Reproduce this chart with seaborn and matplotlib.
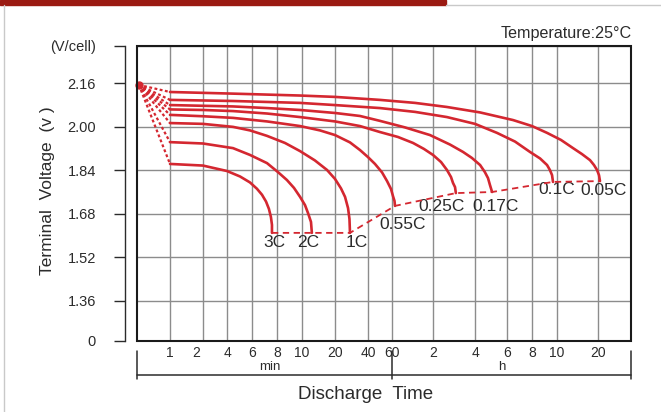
import numpy as np
import pandas as pd
import seaborn as sns
import matplotlib.pyplot as plt
from matplotlib.patches import Rectangle
from matplotlib.lines import Line2D
from matplotlib.transforms import ScaledTranslation

# discharge curves, time in minutes, voltage per cell
t_3c = [1, 2, 4, 4.94, 5.81, 6.35, 6.73, 7.05, 7.29, 7.46, 7.55, 7.55]
v_3c = [1.863, 1.857, 1.837, 1.817, 1.795, 1.772, 1.750, 1.725, 1.698, 1.668, 1.639, 1.610]
t_2c = [1, 2, 4.41, 5.81, 7.13, 8.07, 8.74, 9.31, 9.83, 10.65, 11.34, 12.08, 12.3]
v_2c = [1.943, 1.938, 1.921, 1.896, 1.866, 1.833, 1.804, 1.775, 1.742, 1.712, 1.683, 1.650, 1.610]
t_1c = [1, 2, 4.41, 5.81, 7.13, 8.59, 9.83, 13.1, 16.9, 20, 22.7, 24.7, 26.3, 27.1, 27.4]
v_1c = [2.013, 2.010, 1.999, 1.986, 1.966, 1.940, 1.910, 1.876, 1.841, 1.808, 1.773,
        1.742, 1.701, 1.661, 1.610]
t_055c = [1, 2, 4.41, 7.13, 9.83, 14.6, 20, 27.4, 33.8, 40, 45, 50.7, 55.2, 59, 61, 62.6, 63.1]
v_055c = [2.043, 2.038, 2.032, 2.019, 2.002, 1.986, 1.969, 1.942, 1.914, 1.888, 1.863,
          1.832, 1.800, 1.771, 1.745, 1.727, 1.709]
t_025c = [1, 2, 4.41, 7.13, 9.83, 20, 33.8, 49, 66.3, 85.6, 103, 120, 137, 151, 161.5,
          167, 172.6, 175]
v_025c = [2.063, 2.061, 2.057, 2.048, 2.035, 2.019, 2.002, 1.980, 1.962, 1.940, 1.918,
          1.896, 1.870, 1.841, 1.815, 1.793, 1.778, 1.756]
t_017c = [1, 4.41, 7.13, 9.83, 20, 33.8, 49, 74.8, 114, 159, 197, 228, 256, 272, 283, 290, 298]
v_017c = [2.079, 2.074, 2.068, 2.061, 2.050, 2.039, 2.021, 1.997, 1.969, 1.934, 1.907,
          1.885, 1.859, 1.833, 1.811, 1.786, 1.760]
t_01c = [1, 4.41, 9.83, 20, 49, 88.5, 151, 240, 317, 395, 469, 516, 549, 563, 574, 579]
v_01c = [2.098, 2.094, 2.087, 2.079, 2.068, 2.054, 2.035, 2.010, 1.977, 1.945, 1.907,
         1.883, 1.859, 1.841, 1.822, 1.797]
t_005c = [1, 4.41, 9.83, 20, 49, 88.5, 151, 256, 386, 480, 549, 642, 787, 916, 1048,
          1121, 1180, 1220, 1241]
v_005c = [2.127, 2.121, 2.114, 2.109, 2.098, 2.087, 2.072, 2.052, 2.024, 2.002, 1.977,
          1.951, 1.921, 1.899, 1.877, 1.859, 1.841, 1.822, 1.800]

rates = ['3C', '2C', '1C', '0.55C', '0.25C', '0.17C', '0.1C', '0.05C']
times = [t_3c, t_2c, t_1c, t_055c, t_025c, t_017c, t_01c, t_005c]
volts = [v_3c, v_2c, v_1c, v_055c, v_025c, v_017c, v_01c, v_005c]

# start point of the fan
dot_t = 0.52
dot_v = 2.153

tick_minutes = [1, 2, 4, 6, 8, 10, 20, 40, 60, 120, 240, 360, 480, 600, 1200]
tick_labels = ['1', '2', '4', '6', '8', '10', '20', '40', '60',
               '2', '4', '6', '8', '10', '20']
volt_ticks = [1.36, 1.52, 1.68, 1.84, 2.00, 2.16]

RED = '#d42730'
INK = '#2b2b2b'

# hand-drawn time axis: piecewise log scale through the grid lines
grid_px = [170, 203, 227, 252, 277, 302, 335, 368, 392, 433, 475, 507, 532, 557, 598]
scale_log = np.log([0.25] + tick_minutes + [2400])
scale_pos = np.array([104] + grid_px + [639], dtype=float)


def fwd(x):
    return np.interp(np.log(np.clip(x, 1e-9, None)), scale_log, scale_pos)


def inv(p):
    return np.exp(np.interp(p, scale_pos, scale_log))


df = pd.concat([pd.DataFrame({'minutes': t, 'volts': v, 'rate': r})
                for t, v, r in zip(times, volts, rates)], ignore_index=True)

sns.set_style('white')
plt.rcParams['font.family'] = ['Liberation Sans', 'DejaVu Sans']

fig = plt.figure(figsize=(6.61, 4.12), dpi=100)
ax = fig.add_axes([137 / 661, 71 / 412, 494 / 661, 295 / 412])
ax.set_xscale('function', functions=(fwd, inv))
x_lo, x_hi = float(inv(137)), float(inv(631))
y_lo, y_hi = 1.2132, 2.2958
ax.set_xlim(x_lo, x_hi)
ax.set_ylim(y_lo, y_hi)

sns.lineplot(data=df, x='minutes', y='volts', units='rate', estimator=None,
             sort=False, color=RED, lw=1.9, ax=ax, legend=False, zorder=4)

# dashed fan from the start point
for t, v in zip(times, volts):
    ax.plot([dot_t, t[0]], [dot_v, v[0]], color=RED, lw=1.6,
            ls=(0, (1.3, 1.1)), zorder=4)
ax.plot([dot_t], [dot_v], 'o', ms=5, color=RED, clip_on=False, zorder=5)

# dashed line through the end points
end_t = [t[-1] for t in times]
end_v = [v[-1] for v in volts]
ax.plot(end_t, end_v, color=RED, lw=1.3, ls=(0, (3.5, 2.5)), zorder=4)

label_off = [(2, -10), (-4, -10), (7, -10), (8, -19), (-14, -13), (3, -14), (4, -8), (4, -9)]
for r, t, v, off in zip(rates, end_t, end_v, label_off):
    ax.annotate(r, (t, v), xytext=off, textcoords='offset pixels',
                ha='center', va='center', fontsize=12.5, color=INK)

# axes styling
ax.set_xticks(tick_minutes)
ax.set_xticklabels(tick_labels)
ax.set_yticks([y_lo] + volt_ticks + [y_hi])
ax.set_yticklabels(['0'] + ['%.2f' % v for v in volt_ticks] + ['(V/cell)'])
ax.grid(True, color='#8c8c8c', lw=1.0)
ax.tick_params(axis='x', length=0, pad=3.5, labelsize=10, labelcolor=INK)
ax.tick_params(axis='y', length=8, width=1.0, pad=13, labelsize=10.5,
               labelcolor=INK, color=INK, direction='out', left=True)
for lab in (ax.get_yticklabels()[0], ax.get_yticklabels()[-1]):
    lab.set_transform(lab.get_transform() + ScaledTranslation(10 / 100, 0, fig.dpi_scale_trans))
lab2 = ax.get_xticklabels()[1]
lab2.set_transform(lab2.get_transform() + ScaledTranslation(-7 / 100, 0, fig.dpi_scale_trans))
for s in ['top', 'right', 'bottom']:
    ax.spines[s].set_visible(False)
ax.spines['left'].set_position(('outward', 8.5))
ax.spines['left'].set_color(INK)
ax.spines['left'].set_linewidth(1.0)
ax.add_patch(Rectangle((0, 0), 1, 1, transform=ax.transAxes, fill=False,
                       ec='#1a1a1a', lw=1.5, clip_on=False, zorder=6))
ax.set_xlabel('')
ax.set_ylabel('')

# min / h bracket under the time axis
tr = ax.get_xaxis_transform()
ax.plot([x_lo, x_hi], [-0.115, -0.115], transform=tr, clip_on=False, color=INK, lw=1.1)
for xv in [x_lo, 60, x_hi]:
    ax.plot([xv, xv], [-0.034, -0.129], transform=tr, clip_on=False, color=INK, lw=1.1)
ax.text(0.269, -0.088, 'min', transform=ax.transAxes, ha='center', va='center',
        fontsize=9.5, color=INK)
ax.text(0.739, -0.088, 'h', transform=ax.transAxes, ha='center', va='center',
        fontsize=9.5, color=INK)
ax.text(0.4636, -0.18, 'Discharge  Time', transform=ax.transAxes, ha='center',
        va='center', fontsize=13.5, color=INK)
ax.text(-0.182, 0.508, 'Terminal  Voltage  (v )', transform=ax.transAxes,
        rotation=90, ha='center', va='center', fontsize=12.5, color=INK)
ax.text(1.002, 1.044, 'Temperature:25°C', transform=ax.transAxes, ha='right',
        va='center', fontsize=11.6, color=INK)

# page frame
fig.patches.append(Rectangle((0, 407 / 412), 446 / 661, 5 / 412, transform=fig.transFigure,
                             color='#9b1a12', zorder=0))
fig.lines.append(Line2D([4 / 661, 4 / 661], [0, 407 / 412], transform=fig.transFigure,
                        color='#c9c9c9', lw=1.0))
fig.lines.append(Line2D([446 / 661, 1], [407 / 412, 407 / 412], transform=fig.transFigure,
                        color='#c9c9c9', lw=1.0))

fig.savefig('out.png', dpi=100)
